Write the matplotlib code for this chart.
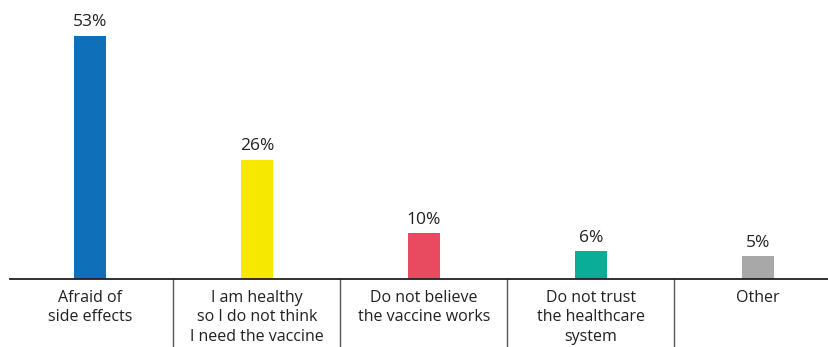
#! /usr/bin/env python3

# import libraries
import numpy as np
import matplotlib
matplotlib.use("Agg")
import matplotlib.pyplot as plt
import matplotlib.transforms as mtransforms


# data
categories = [
    "Afraid of\nside effects",
    "I am healthy\nso I do not think\nI need the vaccine",
    "Do not believe\nthe vaccine works",
    "Do not trust\nthe healthcare\nsystem",
    "Other",
]
values = [53, 26, 10, 6, 5]
colors = ["#0f6fb8", "#f7e800", "#e84a5f", "#0aae96", "#a8a8a8"]


# set matplotlib parameters
plt.rcParams["font.family"] = ["Open Sans", "DejaVu Sans"]
plt.rcParams["figure.facecolor"] = "white"


# setup figure
W, H = 829, 347
fig = plt.figure(figsize=(W / 100, H / 100), dpi=100)
base_px = 68
ax = fig.add_axes([10 / W, base_px / H, 1 - 10 / W, 1 - base_px / H])

x = np.arange(len(values))
ax.bar(x, values, width=32 / 167, color=colors)

for xi, v in zip(x, values):
    ax.annotate(f"{v}%", (xi, v), xytext=(0, 4), textcoords="offset points",
                ha="center", va="bottom", fontsize=12.5, color="#231f20")

ax.set_xlim(-80 / 167, (829 - 90) / 167 - 0.0)
ax.set_ylim(0, 279 / 4.585)

for s in ["top", "right", "left"]:
    ax.spines[s].set_visible(False)
ax.spines["bottom"].set_linewidth(1.3)
ax.spines["bottom"].set_color("#231f20")
ax.set_xticks([])
ax.set_yticks([])

# separators below the axis
trans = mtransforms.blended_transform_factory(ax.transData, ax.transAxes)
ymin = -(base_px + 2) / (H - base_px)
for sx in x[:-1] + 0.5:
    ax.plot([sx, sx], [0, ymin], transform=trans, color="#555555", lw=1.0,
            clip_on=False)

# category labels
for xi, lab in zip(x, categories):
    ax.annotate(lab, (xi, 0), xycoords=trans, xytext=(0, -8),
                textcoords="offset points", ha="center", va="top",
                fontsize=11.5, color="#231f20", linespacing=1.27)

plt.savefig("out.png", dpi=100)
